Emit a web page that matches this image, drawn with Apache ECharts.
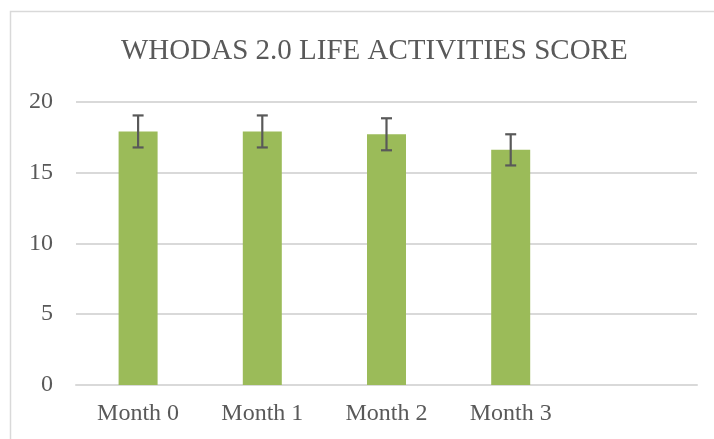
<!DOCTYPE html>
<html><head><meta charset="utf-8">
<script src="https://cdn.jsdelivr.net/npm/echarts@6/dist/echarts.min.js"></script>
<style>html,body{margin:0;padding:0;background:#fff}#c{width:714px;height:439px}</style>
</head><body><div id="c"></div>
<script>
const titleText = 'WHODAS 2.0 LIFE ACTIVITIES SCORE';
const categories = ['Month 0', 'Month 1', 'Month 2', 'Month 3', ''];
const scores = [17.9, 17.9, 17.7, 16.6];
const errors = [1.13, 1.13, 1.13, 1.1];
const yTicks = [0, 5, 10, 15, 20];

const chart = echarts.init(document.getElementById('c'), null, {renderer: 'canvas'});
const serif = '"Liberation Serif", "DejaVu Serif", serif';
const errData = scores.map((v, i) => [i, v - errors[i], v + errors[i]]);

chart.setOption({
  animation: false,
  graphic: [{
    type: 'rect', silent: true,
    shape: {x: 10.5, y: 11.5, width: 800, height: 500},
    style: {fill: 'none', stroke: '#d9d9d9', lineWidth: 1.5}
  }],
  title: {
    text: titleText, left: 116, top: 32,
    textStyle: {fontFamily: serif, fontSize: 29, fontWeight: 'normal', color: '#595959'}
  },
  grid: {left: 76, right: 17, top: 101.7, bottom: 54},
  xAxis: {
    type: 'category', data: categories,
    axisLine: {lineStyle: {color: '#d9d9d9', width: 2}},
    axisTick: {show: false},
    axisLabel: {fontFamily: serif, fontSize: 24, color: '#595959', margin: 17}
  },
  yAxis: {
    type: 'value', min: yTicks[0], max: yTicks[yTicks.length - 1], interval: 5,
    axisLine: {show: false}, axisTick: {show: false},
    splitLine: {lineStyle: {color: '#d9d9d9', width: 2}},
    axisLabel: {fontFamily: serif, fontSize: 24, color: '#595959', margin: 23}
  },
  series: [{
    type: 'bar', data: scores, barWidth: 39,
    itemStyle: {color: '#9bbb59'}
  }, {
    type: 'custom', data: errData, z: 10,
    renderItem: function (params, api) {
      const x = api.value(0);
      const lo = api.coord([x, api.value(1)]);
      const hi = api.coord([x, api.value(2)]);
      const hw = 5.5;
      const st = {stroke: '#595959', lineWidth: 2.2};
      return {type: 'group', children: [
        {type: 'line', shape: {x1: lo[0], y1: lo[1], x2: hi[0], y2: hi[1]}, style: st},
        {type: 'line', shape: {x1: lo[0] - hw, y1: lo[1], x2: lo[0] + hw, y2: lo[1]}, style: st},
        {type: 'line', shape: {x1: hi[0] - hw, y1: hi[1], x2: hi[0] + hw, y2: hi[1]}, style: st}
      ]};
    }
  }]
});
</script></body></html>
